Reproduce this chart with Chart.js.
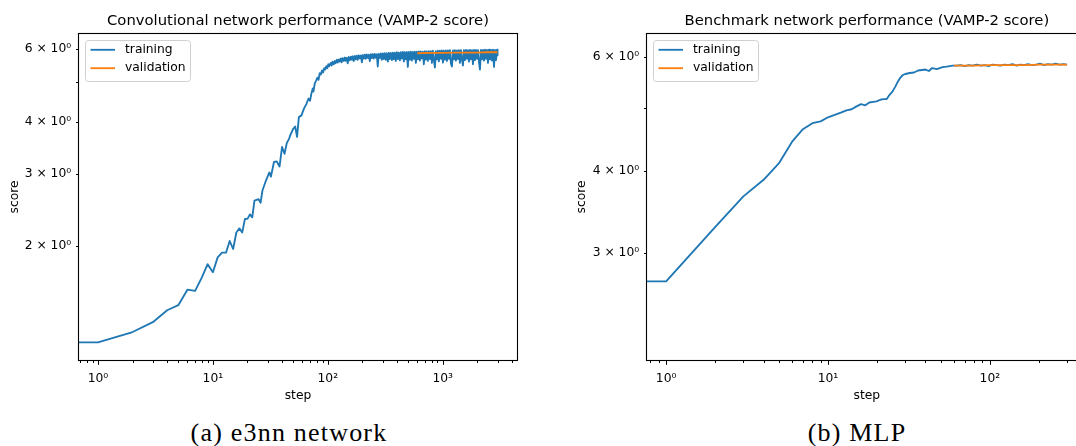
<!DOCTYPE html>
<html>
<head>
<meta charset="utf-8">
<script src="https://cdn.jsdelivr.net/npm/chart.js@4.4.1/dist/chart.umd.min.js"></script>
<style>
html,body{margin:0;padding:0;background:#fff;}
body{width:1076px;height:446px;overflow:hidden;position:relative;}
canvas{position:absolute;top:0;}
#chartA{left:0;}
#chartB{left:560px;}
.cap{position:absolute;top:418px;line-height:30px;font-family:"Liberation Serif","Times New Roman",serif;font-size:26px;letter-spacing:1.2px;color:#000;white-space:nowrap;transform:translateX(-50%);}
</style>
</head>
<body>
<canvas id="chartA" width="560" height="410"></canvas>
<canvas id="chartB" width="540" height="410"></canvas>
<div class="cap" style="left:289px">(a) e3nn network</div>
<div class="cap" style="left:857px">(b) MLP</div>
<script>
// ---------- data: (a) e3nn / convolutional network ----------
const stepsA = [0,1,2,3,4,5,6,7,8,9,10,11,12,13,14,15,16,17,18,19,20,21,22,23,25,26,27,29,31,32,34,36,38,40,42,44,46,47,50,52,54,56,59,62,
  65,68,70,72,74,75,77,79,81,83,85,87,89,91,93,95,97,99,101,103,
  106,108,110,113,115,117,120,122,125,127,130,132,135,138,141,143,146,149,152,155,159,162,165,168,172,175,179,182,186,190,194,198,
  202,206,210,214,218,223,227,232,237,241,246,251,256,262,267,272,278,284,289,295,301,307,313,320,326,333,340,346,353,361,368,375,383,391,399,
  407,415,424,432,441,450,459,468,478,487,497,507,518,528,539,550,561,572,584,596,608,620,633,645,658,672,685,699,713,728,743,758,773,789,
  805,821,838,855,872,890,908,926,945,964,984,1004,1024,1045,1066,1088,1110,1132,1155,1179,1203,1227,1252,1277,1303,1330,1357,1384,1412,1441,
  1470,1500,1530,1561,1593,1625,1658,1692,1726,1761,1797,1833,1871,1908,1947,1987,2027,2068,2110,2153,2196,2241,2286,2333,2380,2428,2477,
  2528,2579,2631,2685,2739,2795,2851,2909,2968,3000];
const trainA = [1.17,1.17,1.24,1.31,1.40,1.44,1.57,1.56,1.68,1.81,1.73,1.88,1.93,1.93,2.06,1.97,2.16,2.21,2.16,2.33,2.33,2.39,2.35,2.58,2.60,2.55,2.73,2.89,3.02,2.95,3.20,3.21,3.12,3.48,3.35,3.56,3.64,3.71,3.85,3.90,3.68,4.11,4.15,4.31,
  4.42,4.56,4.50,4.69,4.82,4.74,4.96,5.03,5.12,5.06,5.25,5.21,5.33,5.27,5.40,5.36,5.46,5.40,5.52,5.46,
  5.56,5.48,5.60,5.52,5.62,5.55,5.66,5.57,5.67,5.60,5.70,5.58,5.71,5.62,5.73,5.63,5.72,5.55,5.75,5.64,5.76,5.66,5.77,5.62,5.78,5.67,5.79,5.66,5.80,5.70,5.80,5.58,
  5.81,5.70,5.82,5.69,5.83,5.72,5.82,5.62,5.84,5.71,5.84,5.70,5.85,5.72,5.84,5.45,5.85,5.72,5.86,5.66,5.86,5.68,5.87,5.66,5.87,5.60,5.88,5.68,5.88,5.65,5.89,5.67,5.89,5.62,5.90,
  5.68,5.89,5.64,5.90,5.70,5.91,5.60,5.90,5.67,5.91,5.44,5.91,5.66,5.92,5.63,5.91,5.69,5.92,5.56,5.92,5.67,5.93,5.63,5.93,5.70,5.92,5.52,5.94,5.66,5.93,
  5.62,5.94,5.68,5.94,5.56,5.95,5.65,5.42,5.94,5.67,5.95,5.61,5.95,5.69,5.96,5.57,5.95,5.66,5.96,5.62,5.96,5.69,5.97,5.54,5.45,5.96,5.67,5.97,5.63,5.96,
  5.68,5.97,5.56,5.97,5.67,5.48,5.97,5.65,5.98,5.69,5.97,5.60,5.98,5.67,5.97,5.52,5.98,5.65,5.98,5.69,5.97,5.58,5.36,5.98,5.67,5.98,5.63,5.99,5.69,5.98,
  5.56,5.99,5.67,5.98,5.63,5.99,5.44,5.98,5.65,5.99,5.80];
const valStepsA = [600,800,1000,1300,1600,2000,2400,2800,3000];
const valA = [5.87,5.88,5.88,5.89,5.89,5.89,5.90,5.90,5.90];

// ---------- data: (b) MLP / benchmark network ----------
const stepsB = [0,1,2,3,4,5,6,7,8,9,10,11,12,13,14,15,16,17,18,19,20,21,22,23,24,25,26,27,28,29,30,32,34,36,38,40,42,44,47,51,54,59,
  62,66,70,74,78,83,88,93,98,104,110,116,123,130,138,146,154,163,172,182,193,204,216,228,241,255,270,285,300];
const trainB = [2.71,2.71,3.28,3.66,3.88,4.12,4.44,4.64,4.74,4.77,4.84,4.88,4.92,4.96,4.98,5.03,5.07,5.05,5.10,5.11,5.12,5.15,5.16,5.16,5.24,5.30,5.39,5.49,5.57,5.62,5.64,
  5.66,5.67,5.71,5.72,5.73,5.70,5.76,5.74,5.78,5.79,5.81,
  5.81,5.82,5.80,5.82,5.81,5.83,5.81,5.82,5.80,5.83,5.82,5.81,5.83,5.82,5.84,5.81,5.83,5.82,5.84,5.82,5.83,5.85,5.82,5.84,5.83,5.85,5.83,5.84,5.83];
const valStepsB = [60,80,100,130,160,200,250,300];
const valB = [5.81,5.81,5.82,5.82,5.82,5.83,5.83,5.83];

// ---------- ticks ----------
const xTicksA = [1,10,100,1000];
const xTickLabelsA = ['10\u2070','10\u00b9','10\u00b2','10\u00b3'];
const yTicksA = [2,3,4,5,6];
const yTickLabelsA = ['2 \u00d7 10\u2070','3 \u00d7 10\u2070','4 \u00d7 10\u2070','','6 \u00d7 10\u2070'];
const xTicksB = [1,10,100];
const xTickLabelsB = ['10\u2070','10\u00b9','10\u00b2'];
const yTicksB = [3,4,5,6];
const yTickLabelsB = ['3 \u00d7 10\u2070','4 \u00d7 10\u2070','','6 \u00d7 10\u2070'];

function minorDecades(from, to) {
  const out = [];
  for (let e = from; e <= to; e++) for (let m = 2; m <= 9; m++) out.push(m * Math.pow(10, e));
  return out;
}

Chart.defaults.font.family = "'DejaVu Sans', sans-serif";
Chart.defaults.color = '#000';

const frameTicks = {
  id: 'frameTicks',
  afterDraw(chart, args, o) {
    const {ctx, chartArea: a} = chart;
    const xs = chart.scales.x, ys = chart.scales.y;
    const L = Math.round(a.left) + 0.5, R = Math.round(a.right) - 0.5;
    const T = Math.round(a.top) + 0.5, B = Math.round(a.bottom) - 0.5;
    ctx.save();
    ctx.strokeStyle = '#000';
    ctx.lineWidth = 1;
    ctx.beginPath();
    const xt = (vals, len) => vals.forEach(v => {
      if (v < xs.min || v > xs.max) return;
      const p = Math.round(xs.getPixelForValue(v)) + 0.5;
      ctx.moveTo(p, B); ctx.lineTo(p, B + len);
    });
    const yt = (vals, len) => vals.forEach(v => {
      if (v < ys.min || v > ys.max) return;
      const p = Math.round(ys.getPixelForValue(v)) + 0.5;
      ctx.moveTo(L, p); ctx.lineTo(L - len, p);
    });
    xt(o.xMajor, 4.3); xt(o.xMinor, 2.5); yt(o.yMinor, 2.5);
    ctx.stroke();
    ctx.lineWidth = 1.1;
    ctx.strokeRect(L, T, R - L, B - T);
    ctx.restore();
  }
};

const boxLegend = {
  id: 'boxLegend',
  afterDraw(chart, args, o) {
    const {ctx, chartArea: a} = chart;
    const x0 = Math.round(a.left + o.dx) + 0.5, y0 = Math.round(a.top + o.dy) + 0.5;
    const w = o.w, h = o.h, r = 3;
    ctx.save();
    ctx.beginPath();
    ctx.moveTo(x0 + r, y0);
    ctx.lineTo(x0 + w - r, y0); ctx.arcTo(x0 + w, y0, x0 + w, y0 + r, r);
    ctx.lineTo(x0 + w, y0 + h - r); ctx.arcTo(x0 + w, y0 + h, x0 + w - r, y0 + h, r);
    ctx.lineTo(x0 + r, y0 + h); ctx.arcTo(x0, y0 + h, x0, y0 + h - r, r);
    ctx.lineTo(x0, y0 + r); ctx.arcTo(x0, y0, x0 + r, y0, r);
    ctx.closePath();
    ctx.fillStyle = 'rgba(255,255,255,0.8)';
    ctx.fill();
    ctx.strokeStyle = '#d0d0d0';
    ctx.lineWidth = 1;
    ctx.stroke();
    ctx.font = '12.3px "DejaVu Sans"';
    ctx.textBaseline = 'middle';
    chart.data.datasets.forEach((d, i) => {
      const y = y0 + o.row0 + i * o.rowGap;
      ctx.beginPath();
      ctx.strokeStyle = d.borderColor;
      ctx.lineWidth = d.borderWidth;
      ctx.moveTo(x0 + 5, y); ctx.lineTo(x0 + 29.5, y);
      ctx.stroke();
      ctx.fillStyle = '#000';
      ctx.fillText(d.label, x0 + 39.5, y);
    });
    ctx.restore();
  }
};

function pairs(xs, ys) { return xs.map((x, i) => ({x: x, y: ys[i]})); }

function makeChart(id, c) {
  return new Chart(document.getElementById(id), {
    type: 'line',
    data: {
      datasets: [
        {label: 'training', data: pairs(c.steps, c.train), borderColor: '#1f77b4', borderWidth: 1.85,
         pointRadius: 0, tension: 0, borderJoinStyle: 'round', order: 1},
        {label: 'validation', data: pairs(c.vsteps, c.val), borderColor: '#ff7f0e', borderWidth: 1.85,
         pointRadius: 0, tension: 0, borderJoinStyle: 'round', order: 0}
      ]
    },
    options: {
      responsive: false, animation: false, devicePixelRatio: 1,
      events: [],
      layout: {padding: {left: 0, right: c.padR, top: 0, bottom: 0}},
      plugins: {
        legend: {display: false},
        tooltip: {enabled: false},
        title: {display: true, text: c.title, fullSize: false, color: '#000',
                font: {size: 14.8, weight: 'normal'}, padding: {top: 12.5, bottom: 2.74}},
        frameTicks: {xMajor: c.xt, xMinor: c.xMinor, yMinor: c.yt},
        boxLegend: {dx: 7, dy: 7, w: 105, h: 41, row0: 9.3, rowGap: 18.4}
      },
      scales: {
        x: {
          type: 'logarithmic', position: 'bottom', min: c.xmin, max: c.xmax,
          grid: {display: false, drawTicks: false}, border: {display: false},
          afterBuildTicks: s => { s.ticks = c.xt.map(v => ({value: v})); },
          afterFit: s => { s.height = 49; },
          ticks: {autoSkip: false, maxRotation: 0, minRotation: 0, padding: 10, font: {size: 12.3},
                  callback: (v, i) => c.xl[i]},
          title: {display: true, text: 'step', font: {size: 12.3}, padding: {top: 0, bottom: 6.6}}
        },
        y: {
          type: 'logarithmic', position: 'left', min: c.ymin, max: c.ymax,
          grid: {display: false, drawTicks: false}, border: {display: false},
          afterBuildTicks: s => { s.ticks = c.yt.map(v => ({value: v})); },
          afterFit: s => { s.width = c.yW; },
          ticks: {autoSkip: false, padding: 6.8, font: {size: 12.3}, callback: (v, i) => c.yl[i]},
          title: {display: true, text: 'score', font: {size: 12.3}, padding: {top: c.yTitlePad, bottom: 0}}
        }
      }
    },
    plugins: [frameTicks, boxLegend]
  });
}

makeChart('chartA', {
  title: 'Convolutional network performance (VAMP-2 score)',
  steps: stepsA, train: trainA, vsteps: valStepsA, val: valA,
  xmin: 0.67, xmax: 4520, ymin: 1.055, ymax: 6.57,
  xt: xTicksA, xl: xTickLabelsA, yt: yTicksA, yl: yTickLabelsA,
  xMinor: minorDecades(-1, 3),
  padR: 42, yW: 78, yTitlePad: 7.6
});

makeChart('chartB', {
  title: 'Benchmark network performance (VAMP-2 score)',
  steps: stepsB, train: trainB, vsteps: valStepsB, val: valB,
  xmin: 0.751, xmax: 402, ymin: 2.045, ymax: 6.52,
  xt: xTicksB, xl: xTickLabelsB, yt: yTicksB, yl: yTickLabelsB,
  xMinor: minorDecades(-1, 2),
  padR: 12.3, yW: 86, yTitlePad: 14.6
});
</script>
</body>
</html>
